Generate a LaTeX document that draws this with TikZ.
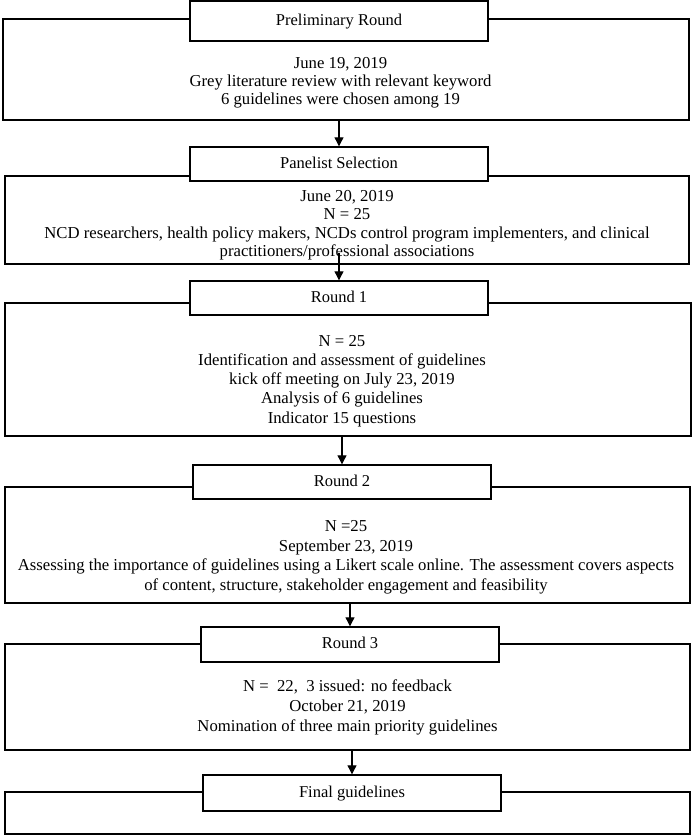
\documentclass[tikz,border=0pt]{standalone}
\usepackage{fontspec}
\setmainfont{Liberation Serif}
\usetikzlibrary{arrows.meta}
\begin{document}
\begin{tikzpicture}[x=1pt,y=-1pt,
  bigbox/.style={draw, line width=1.4pt, inner sep=0pt},
  headbox/.style={draw, fill=white, line width=1.4pt, inner sep=0pt,
    font=\fontsize{16.5}{19}\selectfont, text height=11pt, text depth=2.5pt},
  txt/.style={font=\fontsize{16.7}{19}\selectfont, anchor=base, inner sep=0pt},
  flow/.style={line width=1.1pt, -{Triangle[length=9pt,width=9pt]}}
]
\useasboundingbox (0,0) rectangle (692,836);
\fill[white] (0,0) rectangle (692,836);

% big boxes
\node[bigbox, minimum width=686pt, minimum height=101pt] (b1) at (346,69.5) {};
\node[bigbox, minimum width=684pt, minimum height=88pt]  (b2) at (347,220) {};
\node[bigbox, minimum width=686pt, minimum height=133pt] (b3) at (348,369.5) {};
\node[bigbox, minimum width=685pt, minimum height=116pt] (b4) at (347.5,545) {};
\node[bigbox, minimum width=685pt, minimum height=106pt] (b5) at (347.5,697) {};
\node[bigbox, minimum width=685pt, minimum height=42pt]  (b6) at (347.5,813) {};

% header boxes
\node[headbox, minimum width=298pt, minimum height=40pt] (h1) at (339,21) {Preliminary Round};
\node[headbox, minimum width=298pt, minimum height=34pt] (h2) at (339,164) {Panelist Selection};
\node[headbox, minimum width=298pt, minimum height=34pt] (h3) at (339,298) {Round 1};
\node[headbox, minimum width=298pt, minimum height=34pt] (h4) at (342,482) {Round 2};
\node[headbox, minimum width=298pt, minimum height=35pt] (h5) at (350,644.5) {Round 3};
\node[headbox, minimum width=298pt, minimum height=36pt] (h6) at (352,793) {Final guidelines};

% box texts
\node[txt] (t1a) at (340.5,68) {June 19, 2019};
\node[txt] (t1b) at (340.5,86) {Grey literature review with relevant keyword};
\node[txt] (t1c) at (340.5,104) {6 guidelines were chosen among 19};

\node[txt] (t2a) at (347,201) {June 20, 2019};
\node[txt] (t2b) at (347,219.5) {N = 25};
\node[txt] (t2c) at (347,238) {NCD researchers, health policy makers, NCDs control program implementers, and clinical};
\node[txt] (t2d) at (347,256.5) {practitioners/professional associations};

\node[txt] (t3a) at (342,346) {N = 25};
\node[txt] (t3b) at (342,365.25) {Identification and assessment of guidelines};
\node[txt] (t3c) at (342,384.5) {kick off meeting on July 23, 2019};
\node[txt] (t3d) at (342,403.75) {Analysis of 6 guidelines};
\node[txt] (t3e) at (342,423) {Indicator 15 questions};

\node[txt] (t4a) at (346,531.5) {N =25};
\node[txt] (t4b) at (346,551) {September 23, 2019};
\node[txt] (t4c) at (346,570.5) {Assessing the importance of guidelines using a Likert scale online. The assessment covers aspects};
\node[txt] (t4d) at (346,590) {of content, structure, stakeholder engagement and feasibility};

\node[txt] (t5a) at (347.5,691.5) {N =\ \ 22,\ \ 3 issued: no feedback};
\node[txt] (t5b) at (347.5,711.5) {October 21, 2019};
\node[txt] (t5c) at (347.5,731.5) {Nomination of three main priority guidelines};

% connectors
\coordinate (a2s) at (339,253);
\draw[flow] (b1.south -| h2.north) -- (h2.north);
\draw[flow] (a2s) -- (h3.north);
\draw[flow] (b3.south -| h4.north) -- (h4.north);
\draw[flow] (b4.south -| h5.north) -- (h5.north);
\draw[flow] (b5.south -| h6.north) -- (h6.north);
\end{tikzpicture}
\end{document}
